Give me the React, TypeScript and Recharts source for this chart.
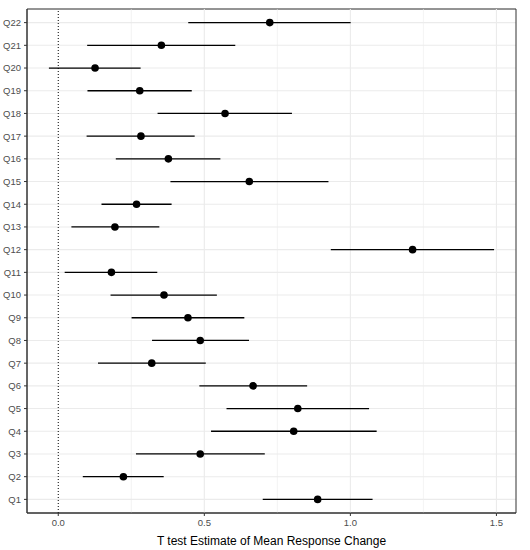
import { ScatterChart, Scatter, XAxis, YAxis, CartesianGrid, ErrorBar, ReferenceLine, ReferenceArea } from 'recharts'

// question labels, bottom to top
const questions = [
  'Q1', 'Q2', 'Q3', 'Q4', 'Q5', 'Q6', 'Q7', 'Q8', 'Q9', 'Q10', 'Q11',
  'Q12', 'Q13', 'Q14', 'Q15', 'Q16', 'Q17', 'Q18', 'Q19', 'Q20', 'Q21', 'Q22',
]
const estimates = [
  0.888, 0.223, 0.486, 0.806, 0.82, 0.667, 0.32, 0.486, 0.444, 0.362, 0.182,
  1.213, 0.194, 0.268, 0.654, 0.377, 0.283, 0.571, 0.279, 0.126, 0.353, 0.724,
]
const lowerCI = [
  0.7, 0.084, 0.266, 0.523, 0.576, 0.483, 0.136, 0.321, 0.251, 0.179, 0.022,
  0.933, 0.045, 0.148, 0.384, 0.197, 0.097, 0.34, 0.1, -0.032, 0.099, 0.445,
]
const upperCI = [
  1.076, 0.361, 0.707, 1.09, 1.064, 0.852, 0.505, 0.653, 0.637, 0.543, 0.339,
  1.492, 0.346, 0.388, 0.925, 0.555, 0.467, 0.8, 0.457, 0.282, 0.606, 1.001,
]
const xTicks = [0, 0.5, 1, 1.5]
const xGrid = [0.25, 0.5, 0.75, 1, 1.25, 1.5]

const data = questions.map((q, i) => ({
  q,
  pos: i + 1,
  est: estimates[i],
  err: [estimates[i] - lowerCI[i], upperCI[i] - estimates[i]],
}))

const xDomain = [-0.107, 1.567]
const yDomain = [0.4, 22.6]
const font = '"Liberation Sans", Arial, sans-serif'

export default function App() {
  return (
    <div style={{ width: 530, height: 550, fontFamily: font }}>
      <style>{'body{margin:0}'}</style>
      <ScatterChart width={530} height={550} margin={{ top: 9, right: 14, bottom: 0, left: 0 }}>
        <CartesianGrid vertical={false} stroke="#ebebeb" strokeWidth={1.1} />
        {xGrid.map((v) => (
          <ReferenceLine key={v} x={v} stroke="#ebebeb" strokeWidth={v % 0.5 === 0 ? 1.1 : 0.6} />
        ))}
        <ReferenceLine x={0} stroke="#000" strokeDasharray="1 2" strokeWidth={1} />
        <XAxis
          type="number"
          dataKey="est"
          domain={xDomain}
          allowDataOverflow
          ticks={xTicks}
          tickFormatter={(v) => v.toFixed(1)}
          height={37}
          tickSize={3}
          tickMargin={3}
          axisLine={{ stroke: '#333333' }}
          tickLine={{ stroke: '#333333' }}
          tick={{ fill: '#4d4d4d', fontSize: 9.5, fontFamily: font }}
          label={{
            value: 'T test Estimate of Mean Response Change',
            position: 'insideBottom',
            offset: 5,
            fill: '#000',
            fontSize: 12,
            fontFamily: font,
          }}
        />
        <YAxis
          type="number"
          dataKey="pos"
          domain={yDomain}
          allowDataOverflow
          ticks={data.map((d) => d.pos)}
          interval={0}
          tickFormatter={(v) => questions[v - 1]}
          width={27}
          tickSize={3}
          tickMargin={3}
          axisLine={{ stroke: '#333333' }}
          tickLine={{ stroke: '#333333' }}
          tick={{ fill: '#4d4d4d', fontSize: 9.5, fontFamily: font }}
        />
        <ReferenceArea
          x1={xDomain[0]}
          x2={xDomain[1]}
          y1={yDomain[0]}
          y2={yDomain[1]}
          fill="none"
          stroke="#333333"
          strokeWidth={1}
          ifOverflow="visible"
        />
        <Scatter
          data={data}
          fill="#000"
          isAnimationActive={false}
          shape={(p: any) => <circle cx={p.cx} cy={p.cy} r={3.8} fill="#000" />}
        >
          <ErrorBar dataKey="err" direction="x" width={0} stroke="#000" strokeWidth={1.3} />
        </Scatter>
      </ScatterChart>
    </div>
  )
}
